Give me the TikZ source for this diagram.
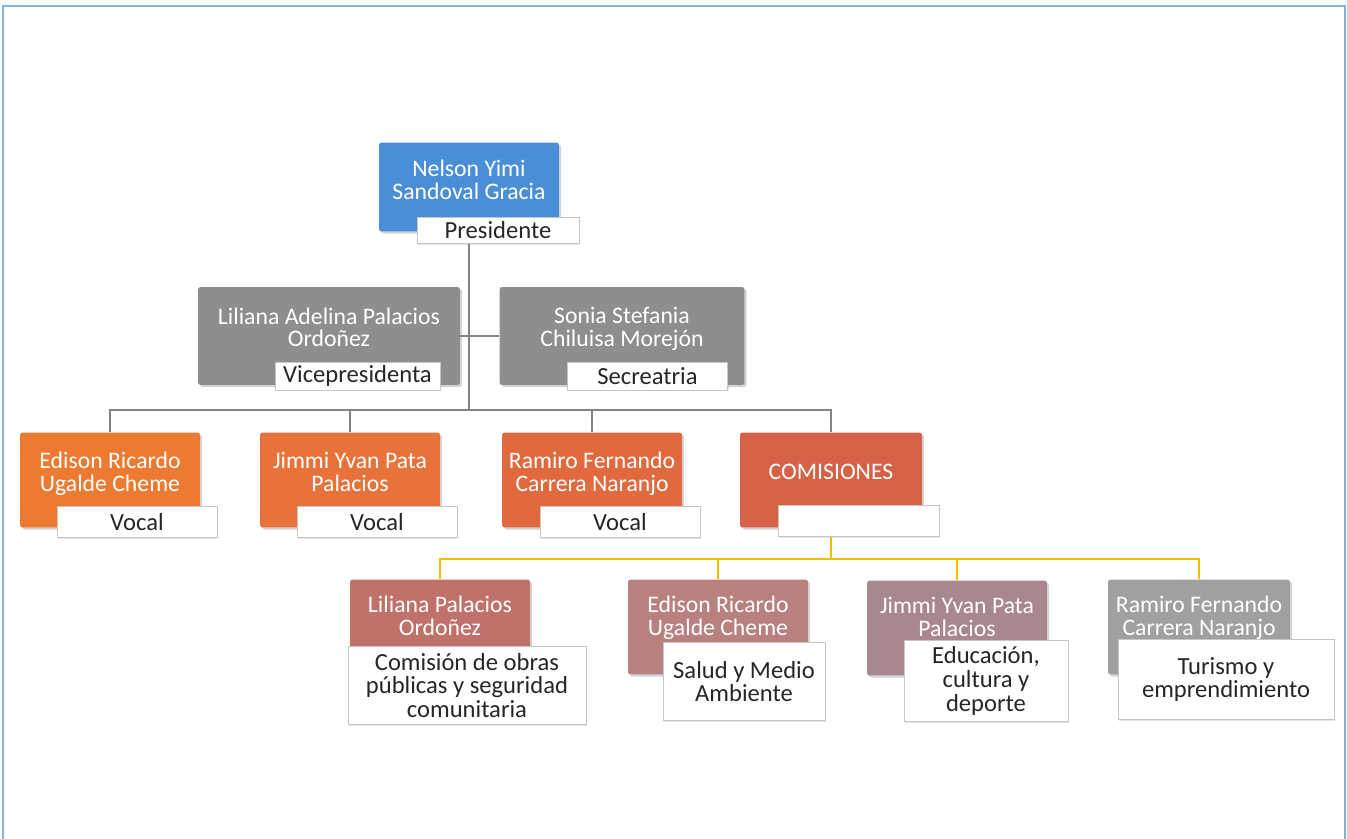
\documentclass[tikz,border=0pt]{standalone}
\usepackage{fontspec}
\setmainfont{Carlito}
\usetikzlibrary{positioning,calc,shadows}

\definecolor{presblue}{HTML}{4A8ED8}
\definecolor{vicegray}{HTML}{8E8E8E}
\definecolor{vocalA}{HTML}{EC7A30}
\definecolor{vocalB}{HTML}{E8733A}
\definecolor{vocalC}{HTML}{E06A3E}
\definecolor{comred}{HTML}{D56246}
\definecolor{comA}{HTML}{C0716A}
\definecolor{comB}{HTML}{B88180}
\definecolor{comC}{HTML}{A9878E}
\definecolor{comD}{HTML}{A0A0A0}
\definecolor{framebl}{HTML}{86B2D9}
\definecolor{linkgray}{HTML}{858585}
\definecolor{linkgold}{HTML}{F0C000}

\begin{document}
\begin{tikzpicture}[
    x=0.02cm, y=-0.02cm,
    person/.style={rectangle, rounded corners=1.5pt, fill=#1, text=white, align=center,
        minimum width=3.6cm, minimum height=1.9cm, inner sep=2pt,
        font=\fontsize{13.5}{13}\selectfont,
        drop shadow={shadow xshift=1.2pt, shadow yshift=-1.2pt, opacity=0.35}},
    lift/.style={text depth=#1},
    role/.style={rectangle, fill=white, draw=gray!45, text=black!85, align=center,
        anchor=south east, inner sep=1pt, font=\fontsize{14}{13.5}\selectfont,
        drop shadow={shadow xshift=0.8pt, shadow yshift=-0.8pt, opacity=0.2}},
    link/.style={draw=linkgray, line width=1.1pt},
    glink/.style={draw=linkgold, line width=1.3pt}
]
\useasboundingbox (0,0) rectangle (1347,839);
\clip (0,0) rectangle (1347,839);

% Frame
\draw[framebl, line width=1.3pt] (3,6) rectangle (1345,860);

% President
\node[person=presblue, minimum height=1.78cm, lift=8pt] (pres) at (469,187) {Nelson Yimi\\Sandoval Gracia};
\node[role, minimum width=3.24cm, minimum height=0.52cm] (presl) at ($(pres.south east)+(20,12)$) {Presidente};

% Vice and secretary
\node[person=vicegray, minimum width=5.24cm, minimum height=1.96cm, lift=10pt] (lil) at (329,336) {Liliana Adelina Palacios\\Ordoñez};
\node[role, minimum width=3.3cm, minimum height=0.56cm] (lill) at ($(lil.south east)+(-20,5)$) {Vicepresidenta};
\node[person=vicegray, minimum width=4.9cm, minimum height=1.96cm, lift=10pt] (son) at (622,336) {Sonia Stefania\\Chiluisa Morejón};
\node[role, minimum width=3.2cm, minimum height=0.56cm] (sonl) at ($(son.south east)+(-17,5)$) {Secreatria};

% Vocals
\node[person=vocalA, lift=9pt] (v1) at (110,480) {Edison Ricardo\\Ugalde Cheme};
\node[role, minimum width=3.2cm, minimum height=0.62cm] (v1l) at ($(v1.south east)+(17,10)$) {Vocal};
\node[person=vocalB, lift=9pt] (v2) at (350,480) {Jimmi Yvan Pata\\Palacios};
\node[role, minimum width=3.2cm, minimum height=0.62cm] (v2l) at ($(v2.south east)+(17,10)$) {Vocal};
\node[person=vocalC, lift=9pt] (v3) at (592,480) {Ramiro Fernando\\Carrera Naranjo};
\node[role, minimum width=3.2cm, minimum height=0.62cm] (v3l) at ($(v3.south east)+(18,10)$) {Vocal};
\node[person=comred, minimum width=3.64cm, lift=9pt] (com) at (831,480) {COMISIONES};
\node[role, minimum width=3.22cm, minimum height=0.62cm] (coml) at ($(com.south east)+(17,9)$) {};

% Commissions
\node[person=comA, lift=13pt] (b1) at (440,627) {Liliana Palacios\\Ordoñez};
\node[role, minimum width=4.76cm, minimum height=1.56cm] (b1l) at ($(b1.south east)+(56,50)$) {Comisión de obras\\públicas y seguridad\\comunitaria};
\node[person=comB, lift=13pt] (b2) at (718,627) {Edison Ricardo\\Ugalde Cheme};
\node[role, minimum width=3.24cm, minimum height=1.56cm] (b2l) at ($(b2.south east)+(17,46)$) {Salud y Medio\\Ambiente};
\node[person=comC, lift=13pt] (b3) at (957,628) {Jimmi Yvan Pata\\Palacios};
\node[role, minimum width=3.28cm, minimum height=1.62cm] (b3l) at ($(b3.south east)+(21,46)$) {Educación,\\cultura y\\deporte};
\node[person=comD, minimum width=3.64cm, lift=13pt] (b4) at (1199,627) {Ramiro Fernando\\Carrera Naranjo};
\node[role, minimum width=4.32cm, minimum height=1.6cm] (b4l) at ($(b4.south east)+(44,45)$) {Turismo y\\emprendimiento};

% Gray connectors
\coordinate (bus) at ($(pres.south)+(0,178)$);
\draw[link] (pres.south |- presl.south) -- (bus);
\draw[link] (lil.east) -- (son.west);
\draw[link] (bus) -| (v1.north);
\draw[link] (bus) -| (v2.north);
\draw[link] (bus) -| (v3.north);
\draw[link] (bus) -| (com.north);

% Gold connectors
\coordinate (cbus) at ($(com.south)+(0,31)$);
\draw[glink] (com.south |- coml.south) -- (cbus);
\draw[glink] (cbus) -| (b1.north);
\draw[glink] (cbus) -| (b2.north);
\draw[glink] (cbus) -| (b3.north);
\draw[glink] (cbus) -| (b4.north);

\end{tikzpicture}
\end{document}
